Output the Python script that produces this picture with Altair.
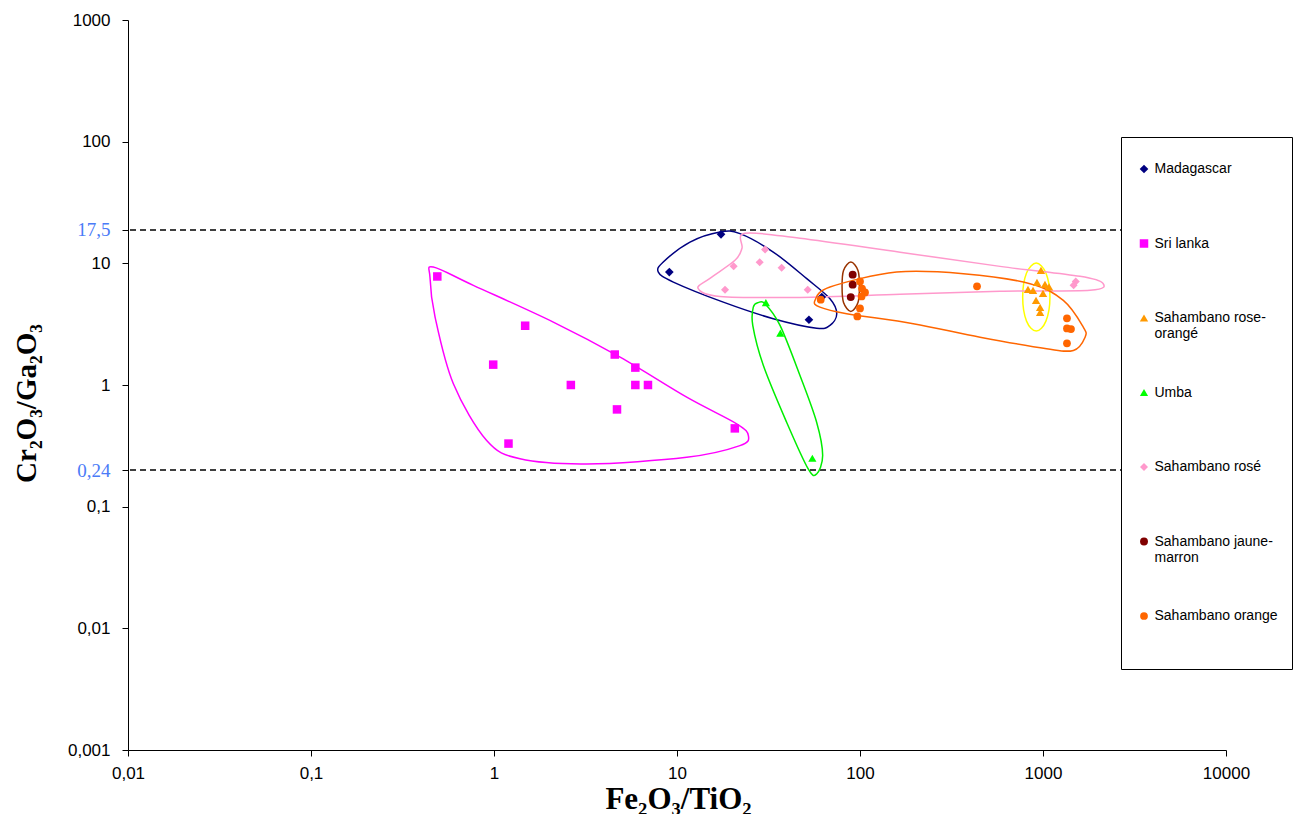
import altair as alt
import pandas as pd

# ---------------- data ----------------
series = ["Madagascar", "Sri lanka", "Sahambano rose-orangé", "Umba",
          "Sahambano rosé", "Sahambano jaune-marron", "Sahambano orange"]
colors = ["#000080", "#FF00FF", "#FF9900", "#00FF00", "#FF99CC", "#800000", "#FF6600"]
shapes = ["diamond", "square", "triangle-up", "triangle-up", "diamond", "circle", "circle"]
sizes = [75, 60, 90, 90, 75, 60, 60]

madagascar_x = [17.4, 9.08, 52.6, 61.8]
madagascar_y = [17.3, 8.48, 3.44, 5.28]

srilanka_x = [0.49, 1.48, 0.99, 2.63, 4.57, 5.92, 5.92, 6.94, 4.70, 20.7, 1.20]
srilanka_y = [7.8, 3.07, 1.47, 1.0, 1.78, 1.39, 1.0, 1.0, 0.63, 0.44, 0.33]

rose_orange_x = [975, 927, 1025, 828, 1000, 916, 964, 964, 1079, 882]
rose_orange_y = [8.75, 6.98, 6.72, 6.11, 5.66, 4.96, 4.34, 3.95, 6.4, 6.0]

umba_x = [30.6, 36.7, 54.9]
umba_y = [4.75, 2.67, 0.25]

rose_x = [30.3, 20.4, 28.3, 37.3, 18.3, 51.8, 1510, 1470]
rose_y = [13.0, 9.45, 10.2, 9.2, 6.07, 6.07, 7.1, 6.6]

jaune_x = [91.2, 91.2, 89.0]
jaune_y = [8.07, 6.68, 5.28]

orange_x = [61.0, 100, 102.6, 106.5, 102.0, 100, 96.7, 436, 1352, 1352, 1422, 1352]
orange_y = [5.03, 7.1, 6.2, 5.77, 5.35, 4.26, 3.66, 6.47, 3.53, 2.92, 2.88, 2.2]

# dashed threshold lines (position) and their labels
threshold_pos = [18.8, 0.2]
threshold_lbl = ["17,5", "0,24"]

x_ticks = [0.01, 0.1, 1, 10, 100, 1000, 10000]
y_ticks = [0.001, 0.01, 0.1, 1, 10, 100, 1000]

# hand-drawn enclosing curves: control points in log10 units
outlines = {
    "Madagascar": ("#000080",
        [1.235, 1.344, 1.526, 1.709, 1.836, 1.873, 1.836, 1.763, 1.526, 1.253, 0.980, 0.898, 0.925, 1.071],
        [1.258, 1.244, 1.093, 0.874, 0.709, 0.586, 0.490, 0.467, 0.545, 0.681, 0.846, 0.928, 1.011, 1.175]),
    "Sri lanka": ("#FF00FF",
        [-0.332, -0.113, 0.324, 0.689, 1.053, 1.326, 1.390, 1.344, 1.053, 0.507, 0.142, -0.040, -0.222, -0.322, -0.350],
        [0.970, 0.819, 0.517, 0.229, -0.100, -0.319, -0.416, -0.498, -0.594, -0.649, -0.607, -0.457, 0.010, 0.558, 0.887]),
    "Sahambano rose-orangé": ("#FFFF00",
        [2.963, 3.016, 3.038, 3.016, 2.963, 2.910, 2.889, 2.910],
        [1.002, 0.920, 0.723, 0.525, 0.443, 0.525, 0.723, 0.920]),
    "Umba": ("#00EE00",
        [1.444, 1.481, 1.563, 1.672, 1.763, 1.796, 1.763, 1.717, 1.599, 1.472, 1.414, 1.417],
        [0.677, 0.668, 0.490, 0.078, -0.306, -0.580, -0.731, -0.690, -0.306, 0.160, 0.490, 0.640]),
    "Sahambano rosé": ("#FF99CC",
        [1.372, 1.672, 2.219, 2.765, 3.202, 3.328, 3.257, 2.765, 2.219, 1.672, 1.235, 1.115, 1.180, 1.317, 1.355],
        [1.247, 1.206, 1.091, 0.975, 0.893, 0.835, 0.778, 0.770, 0.745, 0.720, 0.728, 0.794, 0.877, 1.025, 1.123]),
    "Sahambano jaune-marron": ("#993300",
        [1.950, 1.989, 1.997, 1.989, 1.950, 1.910, 1.902, 1.910],
        [1.011, 0.942, 0.811, 0.679, 0.605, 0.679, 0.811, 0.942]),
    "Sahambano orange": ("#FF6600",
        [1.754, 1.836, 2.200, 2.565, 2.929, 3.111, 3.220, 3.230, 3.166, 3.020, 2.656, 2.291, 1.927, 1.781],
        [0.695, 0.805, 0.928, 0.915, 0.833, 0.695, 0.476, 0.393, 0.284, 0.298, 0.393, 0.504, 0.586, 0.640]),
}

# ---------------- tables ----------------
pts = []
k = 0
for name, xs, ys in zip(series,
                        [madagascar_x, srilanka_x, rose_orange_x, umba_x, rose_x, jaune_x, orange_x],
                        [madagascar_y, srilanka_y, rose_orange_y, umba_y, rose_y, jaune_y, orange_y]):
    for xv, yv in zip(xs, ys):
        pts.append({"serie": name, "x": xv, "y": yv, "k": k})
        k += 1
df_pts = pd.DataFrame(pts)

thr = pd.DataFrame({"y": threshold_pos})

xscale = alt.Scale(type="log", domain=[0.01, 10000], nice=False)
yscale = alt.Scale(type="log", domain=[0.001, 1000], nice=False)

# label expression for the y axis
yexpr = ""
for p, l in zip(threshold_pos, threshold_lbl):
    yexpr += f"datum.value == {p} ? '{l}' : "
yexpr += "replace(toString(datum.value), '.', ',')"
thr_test = " || ".join(f"datum.value == {p}" for p in threshold_pos)

x_axis = alt.Axis(values=x_ticks, labelExpr="replace(toString(datum.value), '.', ',')",
                  grid=False, tickSize=6, domainColor="black", tickColor="black",
                  labelFont="Liberation Sans", labelFontSize=17, labelColor="black",
                  labelPadding=9, labelFlush=False,
                  title="Fe₂O₃/TiO₂", titleFont="Liberation Serif", titleFontSize=31,
                  titleFontWeight="bold", titleColor="black",
                  titleX=550, titleY=58, titleBaseline="alphabetic", titleAlign="center")

y_axis = alt.Axis(values=y_ticks + threshold_pos, labelExpr=yexpr,
                  grid=False, tickSize=6, domainColor="black", tickColor="black",
                  labelFontSize={"condition": {"test": thr_test, "value": 19}, "value": 17},
                  labelFont={"condition": {"test": thr_test, "value": "Liberation Serif"}, "value": "Liberation Sans"},
                  labelColor={"condition": {"test": thr_test, "value": "#4A7BF7"}, "value": "black"},
                  labelPadding=12, labelFlush=False, labelOverlap=False,
                  title="Cr₂O₃/Ga₂O₃", titleFont="Liberation Serif", titleFontSize=29,
                  titleFontWeight="bold", titleColor="black", titleAngle=270,
                  titleX=-93, titleY=383, titleBaseline="alphabetic", titleAlign="center")

rules = alt.Chart(thr).mark_rule(color="black", strokeDash=[6, 4], strokeWidth=1.5).encode(
    y=alt.Y("y:Q", scale=yscale, axis=y_axis)
)

layers = [rules]
for name, (col, lx, ly) in outlines.items():
    d = pd.DataFrame({"x": [10 ** v for v in lx], "y": [10 ** v for v in ly], "i": list(range(len(lx)))})
    layers.append(
        alt.Chart(d).mark_line(interpolate="cardinal-closed", color=col, strokeWidth=1.5).encode(
            x=alt.X("x:Q", scale=xscale, axis=x_axis),
            y=alt.Y("y:Q", scale=yscale, axis=y_axis),
            order="i:Q",
        )
    )

legend = alt.Legend(
    title="\u00a0", titleFontSize=5, titlePadding=6,
    orient="none", legendX=993, legendY=117,
    fillColor="white", strokeColor="black", padding=14,
    labelFont="Liberation Sans", labelFontSize=14, labelColor="black",
    labelOffset=3.5, labelLimit=300, symbolSize=30, symbolStrokeWidth=0, symbolOffset=2,
    rowPadding=28.5, gridAlign="all",
    labelExpr="datum.label == 'Sahambano rose-orangé' ? ['Sahambano rose-', 'orangé'] : "
              "datum.label == 'Sahambano jaune-marron' ? ['Sahambano jaune-', 'marron'] : "
              "datum.label == 'Sahambano orange' ? ['Sahambano orange', ' ', ' '] : datum.label",
)

points = alt.Chart(df_pts).mark_point(filled=True, opacity=1, strokeWidth=0).encode(
    x=alt.X("x:Q", scale=xscale, axis=x_axis),
    y=alt.Y("y:Q", scale=yscale, axis=y_axis),
    color=alt.Color("serie:N", scale=alt.Scale(domain=series, range=colors), legend=legend),
    shape=alt.Shape("serie:N", scale=alt.Scale(domain=series, range=shapes), legend=legend),
    size=alt.Size("serie:N", scale=alt.Scale(domain=series, range=sizes), legend=None),
    order=alt.Order("k:Q"),
)
layers.append(points)

chart = alt.layer(*layers).properties(
    width=1098, height=730,
    autosize=alt.AutoSizeParams(type="none"),
    padding={"left": 120, "top": 12, "right": 69, "bottom": 64},
    background="white",
).configure_view(stroke=None).configure_legend(strokeWidth=1)

chart.save("out.html", embed_options={"renderer": "svg", "actions": False})
